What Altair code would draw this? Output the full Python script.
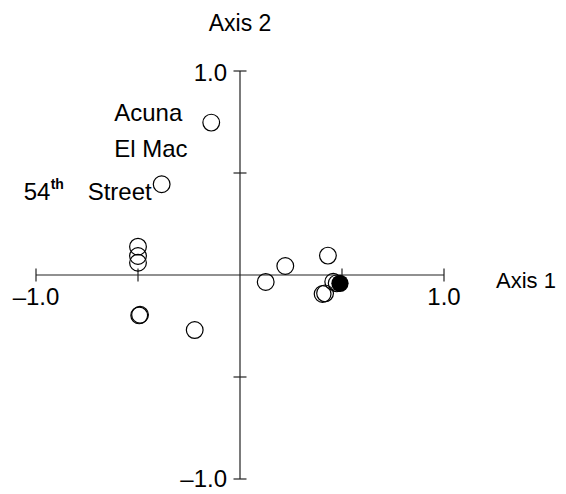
import altair as alt
import pandas as pd

# --- data ---
open_x = [-0.50, -0.50, -0.50, -0.494, -0.490, -0.222, 0.126, 0.222, 0.431, 0.457, 0.474, 0.417, 0.405, -0.141, -0.384]
open_y = [0.139, 0.093, 0.060, -0.198, -0.195, -0.270, -0.034, 0.044, 0.095, -0.033, -0.041, -0.090, -0.093, 0.747, 0.445]
filled_x = [0.490]
filled_y = [-0.041]

axis_ends = [-1.0, 1.0]
tick_vals = [-1.0, -0.5, 0.5, 1.0]
label_vals = [-1.0, 1.0]
x_tick_labels = ["\u20131.0", "1.0"]
y_tick_labels = ["\u20131.0", "1.0"]
y_label_dy = [1, 3]

FONT = "Liberation Sans"
FS = 24

xs = alt.Scale(domain=[-1, 1], nice=False, zero=False)
ys = alt.Scale(domain=[-1, 1], nice=False, zero=False)

def X(f="x"):
    return alt.X(f"{f}:Q", scale=xs, axis=None)

def Y(f="y"):
    return alt.Y(f"{f}:Q", scale=ys, axis=None)

def txt(df, **kw):
    base = dict(font=FONT, fontSize=FS, color="black", baseline="middle")
    base.update(kw)
    return alt.Chart(df).mark_text(**base).encode(x=X(), y=Y(), text="t:N")

# axis lines
hline = alt.Chart(pd.DataFrame({"x": [axis_ends[0]], "x2": [axis_ends[1]], "y": [0.0]})).mark_rule(
    color="#222", strokeWidth=1.2).encode(x=X(), x2="x2:Q", y=Y())
vline = alt.Chart(pd.DataFrame({"x": [0.0], "y": [axis_ends[0]], "y2": [axis_ends[1]]})).mark_rule(
    color="#222", strokeWidth=1.2).encode(x=X(), y=Y(), y2="y2:Q")

# ticks
xticks = alt.Chart(pd.DataFrame({"x": tick_vals, "y": [0.0] * len(tick_vals)})).mark_tick(
    orient="vertical", size=13, thickness=1.2, color="#222", opacity=1).encode(x=X(), y=Y())
yticks = alt.Chart(pd.DataFrame({"x": [0.0] * len(tick_vals), "y": tick_vals})).mark_tick(
    orient="horizontal", size=13, thickness=1.2, color="#222", opacity=1).encode(x=X(), y=Y())

# tick labels
xlab = txt(pd.DataFrame({"x": label_vals, "y": [0.0, 0.0], "t": x_tick_labels}), align="center", dy=23)
ylab_lo = txt(pd.DataFrame({"x": [0.0], "y": [label_vals[0]], "t": [y_tick_labels[0]]}),
              align="right", dx=-13, dy=y_label_dy[0])
ylab_hi = txt(pd.DataFrame({"x": [0.0], "y": [label_vals[1]], "t": [y_tick_labels[1]]}),
              align="right", dx=-13, dy=y_label_dy[1])

# axis titles
t2 = txt(pd.DataFrame({"x": [0.0], "y": [1.0], "t": ["Axis 2"]}), fontSize=23, align="center", dy=-47)
t1 = txt(pd.DataFrame({"x": [1.0], "y": [0.0], "t": ["Axis 1"]}), fontSize=22, align="left", dx=52, dy=6)

# points
opens = alt.Chart(pd.DataFrame({"x": open_x, "y": open_y})).mark_point(
    shape="circle", size=280, filled=False, stroke="black", strokeWidth=1.2, opacity=1).encode(x=X(), y=Y())
fills = alt.Chart(pd.DataFrame({"x": filled_x, "y": filled_y})).mark_circle(
    size=300, color="black", opacity=1).encode(x=X(), y=Y())

# point annotations
ac = pd.DataFrame({"x": [open_x[13]], "y": [open_y[13]]})
acuna = txt(ac.assign(t="Acuna"), align="left", dx=-97, dy=-9)
elmac = txt(ac.assign(t="El Mac"), align="left", dx=-97, dy=27)
st = pd.DataFrame({"x": [open_x[14]], "y": [open_y[14]]})
s54 = txt(st.assign(t="54"), align="left", dx=-138, dy=9)
sth = txt(st.assign(t="th"), fontSize=14, fontWeight="bold", align="left", dx=-111, dy=1)
sstreet = txt(st.assign(t="Street"), align="right", dx=-10, dy=9)

chart = alt.layer(hline, vline, xticks, yticks, xlab, ylab_lo, ylab_hi, t2, t1, opens, fills,
                  acuna, elmac, s54, sth, sstreet).properties(
    width=408, height=408,
    autosize=alt.AutoSizeParams(type="none"),
    padding={"left": 28, "top": 63, "right": 114, "bottom": 13},
    background="white",
).configure_view(stroke=None)

chart.save("out.html", embed_options={"renderer": "svg", "actions": False})
